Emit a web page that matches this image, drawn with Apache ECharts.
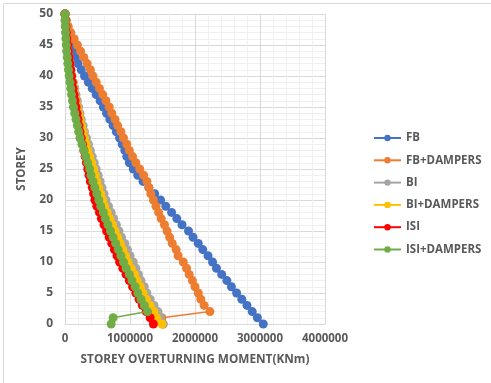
<!DOCTYPE html>
<html>
<head>
<meta charset="utf-8">
<script src="https://cdn.jsdelivr.net/npm/echarts@6/dist/echarts.min.js"></script>
<style>
html,body{margin:0;padding:0;background:#fff;}
#chart{width:491px;height:383px;}
</style>
</head>
<body>
<div id="chart"></div>
<script>
// storeys 0..50
const storeys = Array.from({length:51},(_,i)=>i);
const seriesNames = ['FB','FB+DAMPERS','BI','BI+DAMPERS','ISI','ISI+DAMPERS'];
const FB = [3050000,2960000,2880000,2800000,2720000,2640000,2560000,2490000,2410000,2330000,
  2270000,2200000,2120000,2050000,1970000,1900000,1800000,1720000,1640000,1550000,
  1470000,1380000,1290000,1200000,1120000,1050000,990000,950000,920000,880000,
  840000,790000,740000,690000,640000,590000,540000,480000,420000,360000,
  300000,250000,200000,160000,130000,100000,75000,52000,32000,14000,0];
const FB_D = [1510000,1490000,2230000,2140000,2090000,2050000,2000000,1960000,1910000,1870000,
  1820000,1740000,1710000,1650000,1610000,1570000,1530000,1480000,1440000,1400000,
  1360000,1320000,1290000,1260000,1210000,1150000,1090000,1040000,990000,950000,
  900000,860000,810000,770000,720000,680000,630000,580000,530000,480000,
  430000,390000,340000,290000,240000,190000,140000,90000,50000,20000,0];
const BI = [1510000,1470000,1430000,1370000,1310000,1260000,1220000,1170000,1130000,1090000,
  1050000,1000000,960000,920000,870000,830000,790000,750000,710000,670000,
  630000,600000,570000,540000,510000,480000,450000,420000,390000,360000,
  330000,300000,280000,250000,230000,210000,190000,170000,150000,130000,
  110000,95000,80000,65000,50000,40000,30000,20000,12000,5000,0];
const BI_D = [1490000,1410000,1370000,1310000,1250000,1200000,1160000,1110000,1070000,1020000,
  970000,930000,890000,850000,810000,770000,730000,690000,650000,610000,
  580000,550000,520000,490000,465000,440000,410000,380000,350000,325000,
  300000,275000,255000,230000,210000,190000,170000,150000,135000,118000,
  100000,85000,72000,60000,48000,38000,28000,19000,11000,5000,0];
const ISI = [1360000,1310000,1250000,1190000,1140000,1090000,1040000,990000,940000,890000,
  840000,800000,760000,720000,680000,640000,600000,560000,530000,490000,
  460000,440000,420000,390000,370000,350000,330000,310000,290000,270000,
  250000,230000,215000,200000,185000,170000,155000,140000,125000,112000,
  100000,88000,76000,64000,52000,40000,30000,21000,13000,6000,0];
const ISI_D = [710000,740000,1270000,1220000,1170000,1120000,1080000,1030000,990000,940000,
  900000,860000,820000,780000,740000,700000,660000,620000,590000,550000,
  520000,490000,460000,430000,400000,380000,350000,320000,290000,260000,
  230000,210000,190000,170000,150000,130000,115000,100000,88000,76000,
  64000,53000,43000,34000,26000,19000,13000,8000,4000,1500,0];
const allValues = [FB, FB_D, BI, BI_D, ISI, ISI_D];
const colors = ['#4472C4','#ED7D31','#A5A5A5','#FFC000','#FF0000','#70AD47'];

const chart = echarts.init(document.getElementById('chart'), null, {renderer:'canvas'});
const font = 'Open Sans';
const series = seriesNames.map((name,k)=>({
  name: name,
  type: 'line',
  data: allValues[k].map((v,i)=>[v, storeys[i]]),
  symbol: 'circle',
  symbolSize: 9,
  showSymbol: true,
  lineStyle: {color: colors[k], width: 1.5},
  itemStyle: {color: colors[k]},
  animation: false,
  z: 2 + k
}));

chart.setOption({
  animation: false,
  backgroundColor: '#fff',
  graphic: [{
    type: 'rect', left: 1, top: 1, silent: true,
    shape: {width: 488, height: 380},
    style: {fill: 'none', stroke: '#d9d9d9', lineWidth: 1}
  }],
  grid: {left: 65, right: 166, top: 14, bottom: 59, containLabel: false},
  legend: {
    orient: 'vertical',
    left: 368, top: 126,
    itemWidth: 27, itemHeight: 8, itemGap: 8.3,
    data: seriesNames,
    textStyle: {fontFamily: font, fontSize: 11.5, fontWeight: 'bold', color: '#595959', lineHeight: 14}
  },
  xAxis: {
    type: 'value', min: 0, max: 4000000, interval: 1000000,
    name: 'STOREY OVERTURNING MOMENT(KNm)', nameLocation: 'middle', nameGap: 30,
    nameTextStyle: {fontFamily: font, fontSize: 11.8, fontWeight: 'bold', color: '#595959'},
    axisLine: {show: true, lineStyle: {color: '#d9d9d9'}},
    axisTick: {show: false},
    axisLabel: {fontFamily: font, fontSize: 11.5, fontWeight: 'bold', color: '#595959', margin: 9,
      formatter: v => String(v)},
    splitLine: {show: true, lineStyle: {color: '#d9d9d9', width: 1}},
    minorTick: {show: false, splitNumber: 5},
    minorSplitLine: {show: true, lineStyle: {color: '#f0f0f0', width: 1}}
  },
  yAxis: {
    type: 'value', min: 0, max: 50, interval: 5,
    name: 'STOREY', nameLocation: 'middle', nameGap: 37,
    nameTextStyle: {fontFamily: font, fontSize: 11.5, fontWeight: 'bold', color: '#595959'},
    axisLine: {show: true, lineStyle: {color: '#d9d9d9'}},
    axisTick: {show: false},
    axisLabel: {fontFamily: font, fontSize: 12, fontWeight: 'bold', color: '#595959', margin: 12},
    splitLine: {show: true, lineStyle: {color: '#d9d9d9', width: 1}},
    minorTick: {show: false, splitNumber: 5},
    minorSplitLine: {show: true, lineStyle: {color: '#f0f0f0', width: 1}}
  },
  series: series
});
</script>
</body>
</html>
